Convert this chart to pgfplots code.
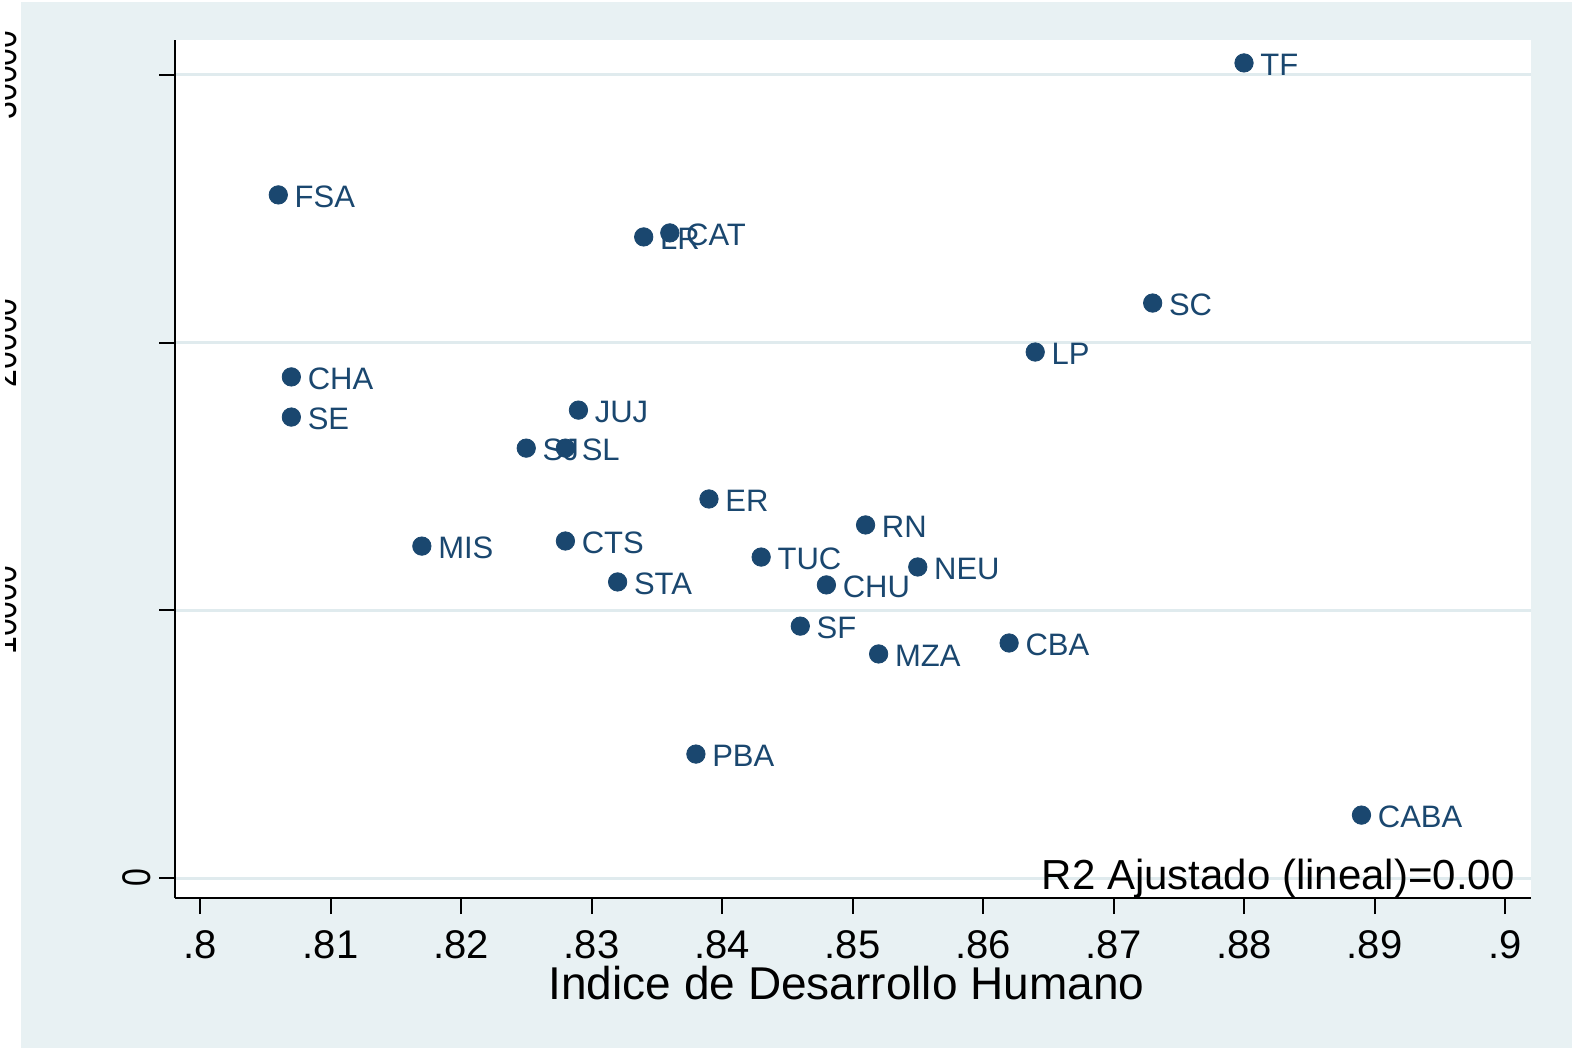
\documentclass[border=0pt]{standalone}
\usepackage{pgfplots}
\pgfplotsset{compat=1.18}
\usepackage{pgfplotstable}
\usepackage{fontspec}
\setmainfont{Liberation Sans}
\definecolor{bgc}{RGB}{232,241,243}
\definecolor{gridc}{RGB}{224,235,238}
\definecolor{navy}{RGB}{26,71,111}

\pgfplotstableread{
x y lab
0.880 30450 TF
0.806 25520 FSA
0.834 23950 LR
0.836 24100 CAT
0.873 21480 SC
0.864 19650 LP
0.807 18720 CHA
0.807 17220 SE
0.829 17480 JUJ
0.825 16060 SJ
0.828 16060 SL
0.839 14160 ER
0.851 13190 RN
0.817 12400 MIS
0.828 12590 CTS
0.843 11990 TUC
0.855 11620 NEU
0.832 11060 STA
0.848 10950 CHU
0.846 9410 SF
0.852 8370 MZA
0.862 8780 CBA
0.838 4630 PBA
0.889 2350 CABA
}\datatable

\begin{document}
\begin{tikzpicture}
\fill[white] (0,0) rectangle (786pt,525pt);
\fill[bgc] (10.5pt,1pt) rectangle (786pt,524pt);
\begin{axis}[
  at={(87.5pt,76pt)}, anchor=south west,
  scale only axis, width=678pt, height=429pt,
  xmin=0.798084, xmax=0.901992,
  ymin=-747, ymax=31307,
  axis background/.style={fill=white},
  axis x line*=bottom, axis y line*=left,
  axis line style={black, line width=1pt, -},
  tick align=outside,
  major tick length=8pt,
  tick style={black, line width=1pt},
  xtick={0.8,0.81,0.82,0.83,0.84,0.85,0.86,0.87,0.88,0.89,0.9},
  xticklabels={.8,.81,.82,.83,.84,.85,.86,.87,.88,.89,.9},
  xticklabel style={font=\fontsize{20}{24}\selectfont, inner sep=0pt, anchor=north, yshift=-8pt},
  ytick={0,10000,20000,30000},
  yticklabels={,,,},
  scaled y ticks=false, scaled x ticks=false,
  ymajorgrids,
  grid style={gridc, line width=1.5pt},
  clip=false,
]
\addplot[only marks, mark=*, mark size=4.6pt, color=navy,
  point meta=explicit symbolic,
  nodes near coords,
  every node near coord/.append style={anchor=west, inner sep=0pt, xshift=8pt, yshift=-1pt,
    font=\fontsize{15.5}{18}\selectfont, text=navy}]
  table[x=x, y=y, meta=lab] {\datatable};
\end{axis}
% y tick labels (rotated, as in the reference)
\node[rotate=90, anchor=south, inner sep=0pt, font=\fontsize{20}{24}\selectfont] at (75.5pt,86pt) {\scalebox{0.8}[1]{0}};
\node[rotate=90, anchor=south, inner sep=0pt, font=\fontsize{20}{24}\selectfont] at (8.5pt,219.85pt) {\scalebox{0.8}[1]{10000}};
\node[rotate=90, anchor=south, inner sep=0pt, font=\fontsize{20}{24}\selectfont] at (8.5pt,353.65pt) {\scalebox{0.8}[1]{20000}};
\node[rotate=90, anchor=south, inner sep=0pt, font=\fontsize{20}{24}\selectfont] at (8.5pt,487.5pt) {\scalebox{0.8}[1]{30000}};
\fill[white] (0,0) rectangle (2.5pt,525pt);
\node[anchor=base, inner sep=0pt, font=\fontsize{23}{28}\selectfont] at (423.25pt,25.5pt) {Indice de Desarrollo Humano};
\node[anchor=base east, inner sep=0pt, font=\fontsize{21}{25}\selectfont] at (757.5pt,80.5pt) {R2 Ajustado (lineal)=0.00};
\pgfresetboundingbox
\useasboundingbox (0,0) rectangle (786pt,525pt);
\end{tikzpicture}
\end{document}
